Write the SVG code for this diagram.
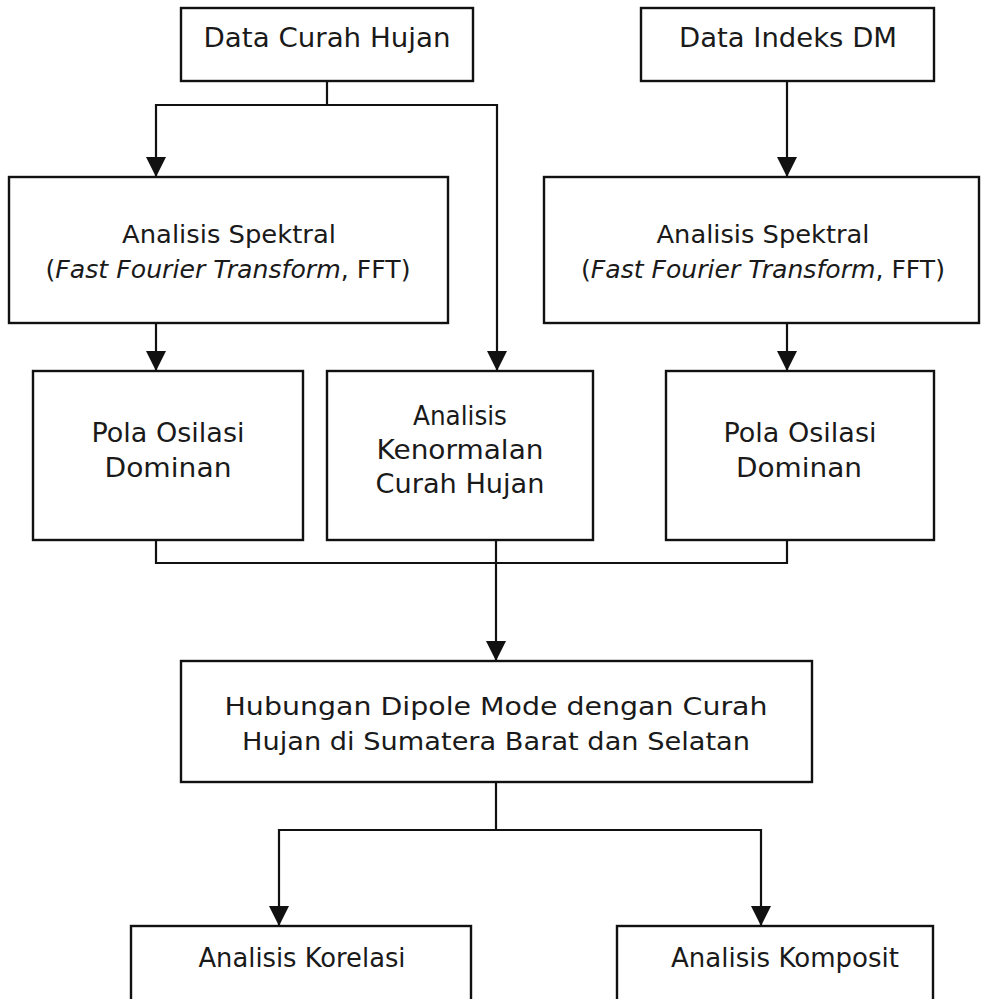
<svg xmlns="http://www.w3.org/2000/svg" width="982" height="999" viewBox="0 0 982 999">
<style>
.box{fill:#fff;stroke:#111;stroke-width:2.4}
.t{font-family:"DejaVu Sans","Liberation Sans",sans-serif;fill:#1a1a1a;text-anchor:middle}
.c{fill:none;stroke:#111;stroke-width:2.2}
.arr{fill:none;stroke:#111;stroke-width:2.2;marker-end:url(#ah)}
</style>
<defs>
<marker id="ah" markerUnits="userSpaceOnUse" markerWidth="20" markerHeight="20" viewBox="0 0 20 20" refX="20" refY="10" orient="auto">
<path d="M0,0 L20,10 L0,20 z" fill="#111"/>
</marker>
</defs>
<rect width="982" height="999" fill="#fff"/>
<g id="connectors">
<path class="arr" d="M327,81 V105 H156 V177"/>
<path class="arr" d="M327,105 H497 V371"/>
<path class="arr" d="M787,81 V177"/>
<path class="arr" d="M156,323 V371"/>
<path class="arr" d="M787,323 V371"/>
<path class="c" d="M156,540 V563 H787 V540"/>
<path class="arr" d="M496,540 V661"/>
<path class="c" d="M496,782 V830"/>
<path class="arr" d="M496,830 H279 V926"/>
<path class="arr" d="M496,830 H761 V926"/>
</g>
<g id="data-curah-hujan">
<rect class="box" x="181" y="8" width="292" height="73"/>
<text class="t" x="327" y="47" font-size="27" textLength="247" lengthAdjust="spacingAndGlyphs">Data Curah Hujan</text>
</g>
<g id="data-indeks-dm">
<rect class="box" x="641" y="8" width="293" height="73"/>
<text class="t" x="788" y="47" font-size="27" textLength="218" lengthAdjust="spacingAndGlyphs">Data Indeks DM</text>
</g>
<g id="spektral-left">
<rect class="box" x="9" y="177" width="439" height="146"/>
<text class="t" x="229" y="243" font-size="25" textLength="214" lengthAdjust="spacingAndGlyphs">Analisis Spektral</text>
<text class="t" x="228" y="278" font-size="25" textLength="365" lengthAdjust="spacingAndGlyphs">(<tspan font-style="italic">Fast Fourier Transform</tspan>, FFT)</text>
</g>
<g id="spektral-right">
<rect class="box" x="544" y="177" width="435" height="146"/>
<text class="t" x="763" y="243" font-size="25" textLength="213" lengthAdjust="spacingAndGlyphs">Analisis Spektral</text>
<text class="t" x="763" y="278" font-size="25" textLength="364" lengthAdjust="spacingAndGlyphs">(<tspan font-style="italic">Fast Fourier Transform</tspan>, FFT)</text>
</g>
<g id="pola-left">
<rect class="box" x="33" y="371" width="270" height="169"/>
<text class="t" x="168" y="442" font-size="27" textLength="153" lengthAdjust="spacingAndGlyphs">Pola Osilasi</text>
<text class="t" x="168" y="477" font-size="27" textLength="127" lengthAdjust="spacingAndGlyphs">Dominan</text>
</g>
<g id="kenormalan">
<rect class="box" x="327" y="371" width="266" height="169"/>
<text class="t" x="460" y="425" font-size="27" textLength="94" lengthAdjust="spacingAndGlyphs">Analisis</text>
<text class="t" x="460" y="459" font-size="27" textLength="167" lengthAdjust="spacingAndGlyphs">Kenormalan</text>
<text class="t" x="460" y="493" font-size="27" textLength="169" lengthAdjust="spacingAndGlyphs">Curah Hujan</text>
</g>
<g id="pola-right">
<rect class="box" x="666" y="371" width="268" height="169"/>
<text class="t" x="800" y="442" font-size="27" textLength="153" lengthAdjust="spacingAndGlyphs">Pola Osilasi</text>
<text class="t" x="799" y="477" font-size="27" textLength="126" lengthAdjust="spacingAndGlyphs">Dominan</text>
</g>
<g id="hubungan">
<rect class="box" x="181" y="661" width="631" height="121"/>
<text class="t" x="496" y="715" font-size="25" textLength="543" lengthAdjust="spacingAndGlyphs">Hubungan Dipole Mode dengan Curah</text>
<text class="t" x="496" y="750" font-size="25" textLength="508" lengthAdjust="spacingAndGlyphs">Hujan di Sumatera Barat dan Selatan</text>
</g>
<g id="korelasi">
<rect class="box" x="131" y="926" width="340" height="95"/>
<text class="t" x="302" y="967" font-size="26" textLength="207" lengthAdjust="spacingAndGlyphs">Analisis Korelasi</text>
</g>
<g id="komposit">
<rect class="box" x="617" y="926" width="316" height="95"/>
<text class="t" x="785" y="967" font-size="26" textLength="228" lengthAdjust="spacingAndGlyphs">Analisis Komposit</text>
</g>
</svg>
